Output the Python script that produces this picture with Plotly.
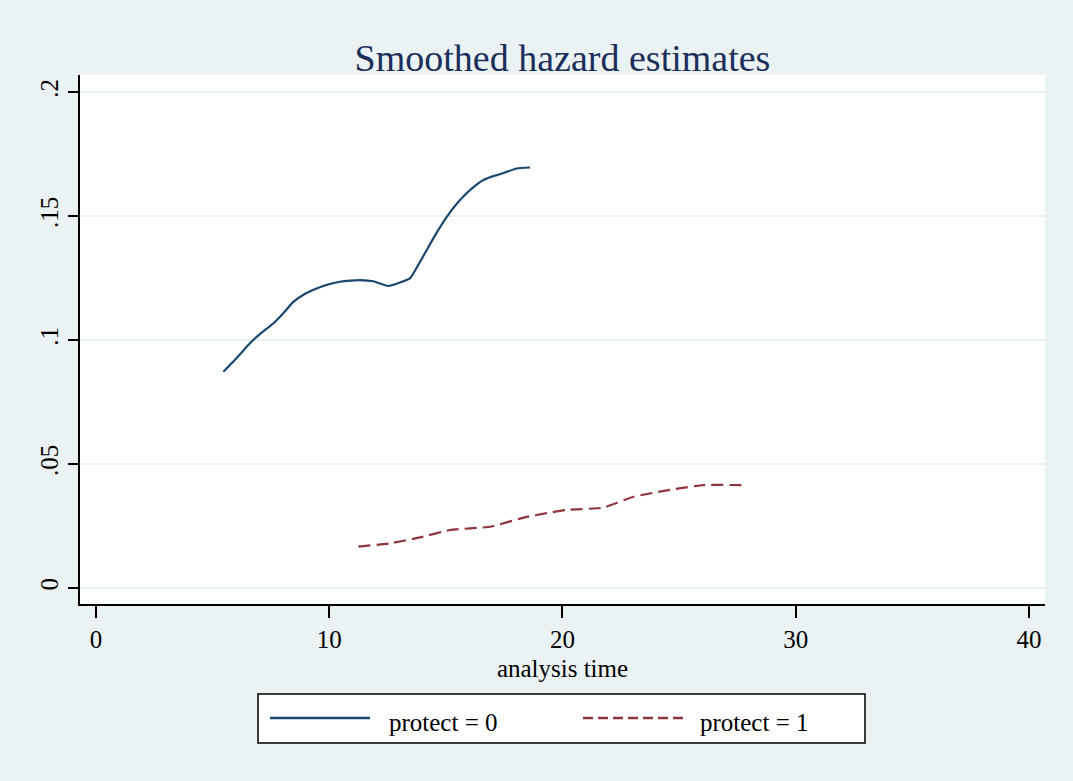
import plotly.graph_objects as go

# protect = 0
t0 = [5.46, 6.10, 6.60, 7.10, 7.60, 8.00, 8.46, 8.95, 9.46, 9.95, 10.46, 10.90, 11.32, 11.89, 12.53, 13.46, 13.80, 14.18, 14.60, 15.04, 15.45, 15.89, 16.25, 16.60, 17.00, 17.32, 18.04, 18.61]
h0 = [0.0872, 0.0935, 0.0987, 0.1030, 0.1067, 0.1105, 0.1154, 0.1186, 0.1208, 0.1224, 0.1235, 0.1240, 0.1242, 0.1237, 0.1218, 0.1249, 0.1300, 0.1363, 0.1432, 0.1497, 0.1548, 0.1592, 0.1622, 0.1645, 0.1660, 0.1669, 0.1692, 0.1696]
# protect = 1
t1 = [11.25, 12.60, 13.89, 15.18, 16.89, 18.47, 20.18, 21.75, 23.04, 24.75, 26.04, 27.82]
h1 = [0.0167, 0.0180, 0.0204, 0.0234, 0.0247, 0.0287, 0.0315, 0.0324, 0.0368, 0.0398, 0.0415, 0.0415]

xticks = [0, 10, 20, 30, 40]
yticks = [0, 0.05, 0.1, 0.15, 0.2]
yticklabels = ["0", ".05", ".1", ".15", ".2"]
series_names = ["protect = 0", "protect = 1"]
series_colors = ["#1a476f", "#90353b"]
series_dash = ["solid", "12px,6px"]
legend_dash = ["solid", "10px,5px"]

FONT = "Liberation Serif, DejaVu Serif, serif"
BG = "#EAF2F3"

fig = go.Figure()
fig.add_trace(go.Scatter(x=t0, y=h0, mode="lines", name=series_names[0], showlegend=False,
                         line=dict(color=series_colors[0], width=2.2, dash=series_dash[0],
                                   shape="spline", smoothing=0.4)))
fig.add_trace(go.Scatter(x=t1, y=h1, mode="lines", name=series_names[1], showlegend=False,
                         line=dict(color=series_colors[1], width=2.2, dash=series_dash[1],
                                   shape="spline", smoothing=0.4)))

# plot area in pixels: x 80..1045, y 75..604
L, R, T, B = 80, 1045, 75, 604
def px(x):
    return (x - L) / (R - L)
def py(y):
    return (B - y) / (B - T)

# legend box (manual)
shapes = [dict(type="rect", xref="paper", yref="paper",
               x0=px(258), x1=px(865), y0=py(743), y1=py(694),
               fillcolor="white", line=dict(color="black", width=1.5), layer="above")]
annotations = []
legend_layout = [(270, 370, 387), (583, 683, 698)]
for (lx0, lx1, tx), name, col, dsh in zip(legend_layout, series_names, series_colors, legend_dash):
    shapes.append(dict(type="line", xref="paper", yref="paper",
                       x0=px(lx0), x1=px(lx1), y0=py(718), y1=py(718),
                       line=dict(color=col, width=2.5, dash=dsh), layer="above"))
    annotations.append(dict(text=name, xref="paper", yref="paper", x=px(tx), y=py(722),
                            xanchor="left", yanchor="middle", showarrow=False,
                            font=dict(family=FONT, size=25, color="black")))

fig.update_layout(
    width=1073, height=781,
    paper_bgcolor=BG, plot_bgcolor="white",
    margin=dict(l=L, r=1073 - R, t=T, b=781 - B),
    title=dict(text="Smoothed hazard estimates", x=0.5, xref="paper", xanchor="center",
               y=1 - 58 / 781, yanchor="middle",
               font=dict(family=FONT, size=38, color="#1c2e5a")),
    font=dict(family=FONT, size=25, color="black"),
    showlegend=False,
    shapes=shapes,
    annotations=annotations,
)

fig.update_xaxes(range=[-0.686, 40.69], tickvals=xticks, ticks="outside", ticklen=12,
                 tickcolor="black", tickwidth=1.5, showline=True, linecolor="black", linewidth=1.5,
                 showgrid=False, zeroline=False,
                 title=dict(text="analysis time", font=dict(family=FONT, size=25), standoff=8),
                 tickfont=dict(family=FONT, size=25))
fig.update_yaxes(range=[-0.00645, 0.2069], tickvals=yticks, ticktext=yticklabels, tickangle=-90,
                 ticks="outside", ticklen=10, tickcolor="black", tickwidth=1.5,
                 showline=True, linecolor="black", linewidth=1.5,
                 showgrid=True, gridcolor=BG, gridwidth=2, zeroline=False,
                 tickfont=dict(family=FONT, size=25))

fig.write_html("out.html", config={"displayModeBar": False},
               post_script="document.body.style.margin='0';document.body.style.background='#EAF2F3';")
